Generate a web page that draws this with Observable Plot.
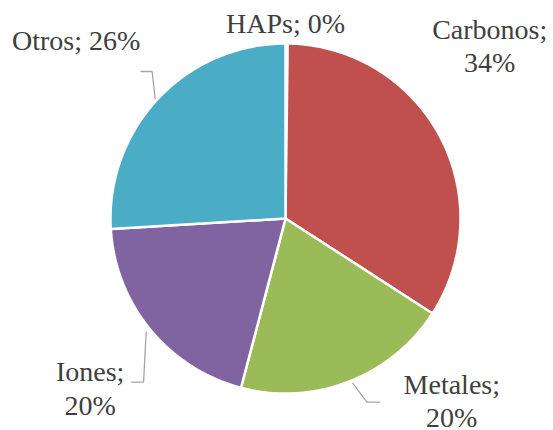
<!DOCTYPE html>
<html><head><meta charset="utf-8">
<script src="https://cdn.jsdelivr.net/npm/d3@7"></script>
<script src="https://cdn.jsdelivr.net/npm/@observablehq/plot@0.6"></script>
<style>html,body{margin:0;padding:0;background:#fff}</style>
</head><body><div id="chart"></div>
<script>
// ---- data ----
const categories = ["HAPs", "Carbonos", "Metales", "Iones", "Otros"];
const values = [0.2, 34, 20, 20, 26];
const labels = ["HAPs; 0%", "Carbonos;\n34%", "Metales;\n20%", "Iones;\n20%", "Otros; 26%"];
const colors = ["#4F81BD", "#C0504D", "#9BBB59", "#8064A2", "#4BACC6"];

// ---- layout ----
const W = 553, H = 430, R = 175, cx = 285, cy = 218;
// label offsets (px) from slice rim point at mid angle
const labelOffsets = [[-1, -21], [50, -91], [103, 18], [-60, 58], [-82, -59]];
// leader polylines (px offsets from rim point), null = none
const leaderOffsets = [null, null,
  [[4, 1.5], [18, 20.5], [31, 20.5]],
  [[-4, 2.7], [-6.6, 52.7], [-18.6, 52.7]],
  [[-3, 0], [-6, -27], [-17, -27]]];

const total = d3.sum(values);
let acc = 0;
const slices = values.map((v, i) => {
  const a0 = acc / total * 2 * Math.PI; acc += v;
  const a1 = acc / total * 2 * Math.PI;
  return {name: categories[i], a0, a1, mid: (a0 + a1) / 2, label: labels[i]};
});
const pts = [];
for (const s of slices) {
  pts.push({name: s.name, x: 0, y: 0});
  const n = Math.max(2, Math.ceil((s.a1 - s.a0) / (Math.PI / 180)));
  for (let k = 0; k <= n; k++) {
    const a = s.a0 + (s.a1 - s.a0) * k / n;
    pts.push({name: s.name, x: Math.sin(a), y: Math.cos(a)});
  }
  pts.push({name: s.name, x: 0, y: 0});
}
const off = (s, o) => ({x: Math.sin(s.mid) + o[0] / R, y: Math.cos(s.mid) - o[1] / R});
const labelData = slices.map((s, i) => ({...off(s, labelOffsets[i]), text: s.label}));
const leaderPts = [];
slices.forEach((s, i) => {
  if (!leaderOffsets[i]) return;
  leaderOffsets[i].forEach(o => leaderPts.push({name: s.name, ...off(s, o)}));
});

const chart = Plot.plot({
  width: W, height: H, margin: 0,
  style: {fontFamily: "Liberation Serif", background: "#fff"},
  x: {domain: [-cx / R, (W - cx) / R], axis: null},
  y: {domain: [-(H - cy) / R, cy / R], axis: null},
  color: {domain: categories, range: colors},
  marks: [
    Plot.line(pts, {x: "x", y: "y", z: "name", fill: "name", stroke: "white", strokeWidth: 2.5, strokeLinejoin: "miter"}),
    Plot.line(leaderPts, {x: "x", y: "y", z: "name", stroke: "#A6A6A6", strokeWidth: 1.3}),
    Plot.text(labelData, {x: "x", y: "y", text: "text", fontFamily: "Liberation Serif", fontSize: 28,
      fill: "#404040", lineHeight: 1.2, textAnchor: "middle", lineAnchor: "middle"})
  ]
});
document.getElementById("chart").appendChild(chart);
</script>
</body></html>
